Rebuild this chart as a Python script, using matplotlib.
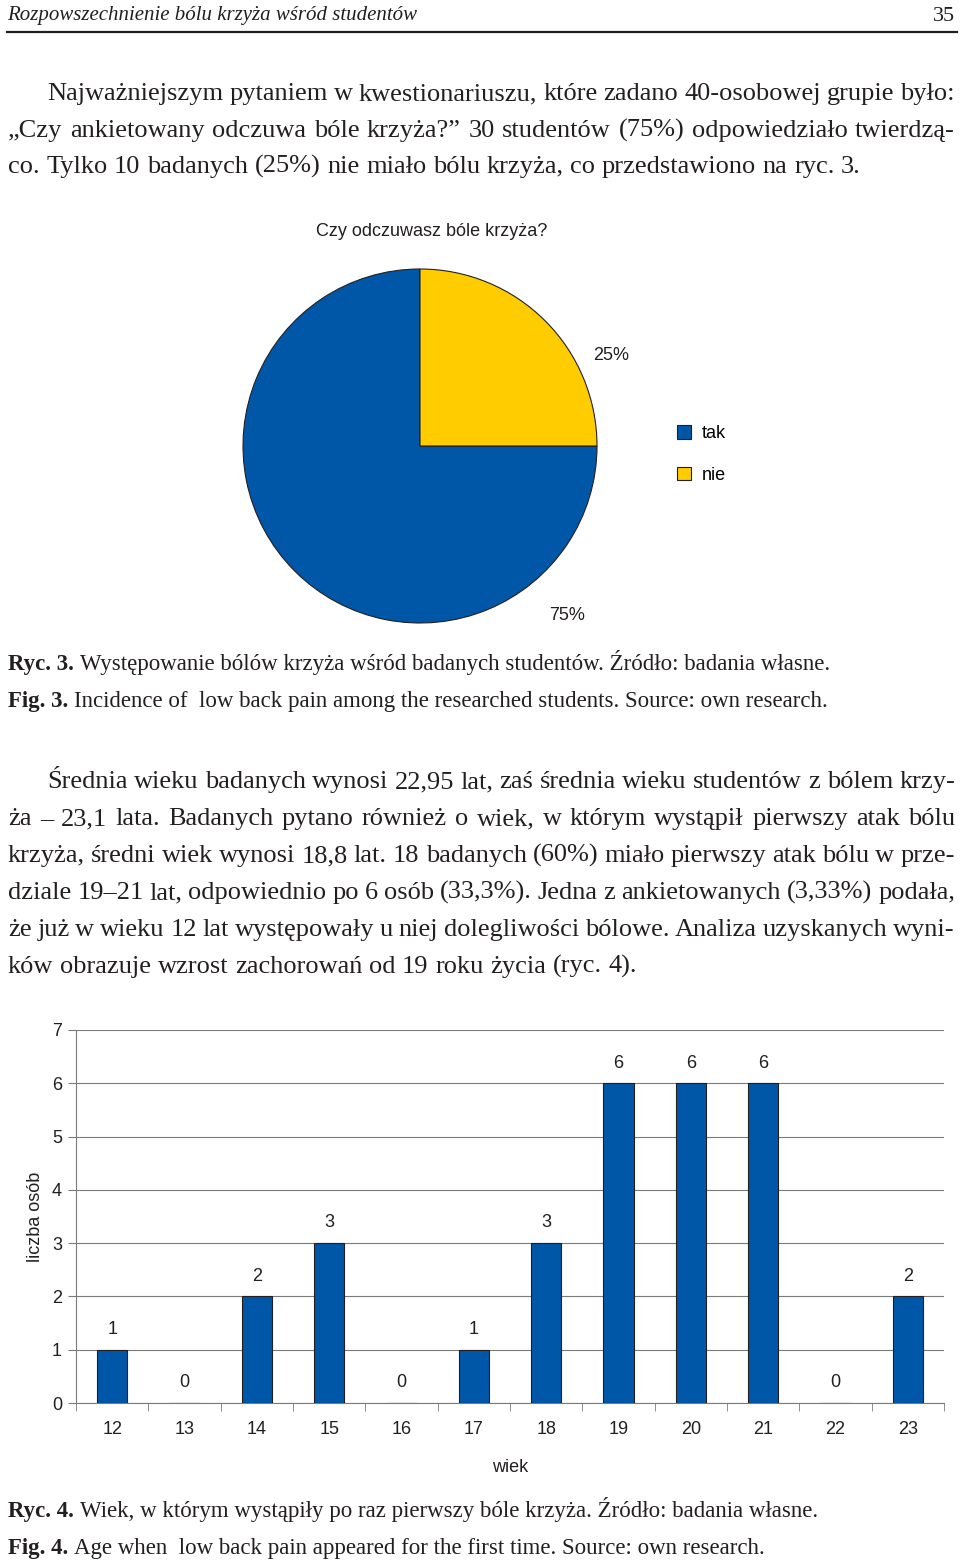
import matplotlib
matplotlib.use('Agg')
import matplotlib.pyplot as plt
import numpy as np

# pie data (ryc. 3)
pie_labels = ['tak', 'nie']
pie_values = [75, 25]
pie_colors = ['#0057a8', '#ffcc00']

# bar data (ryc. 4)
ages = ['12', '13', '14', '15', '16', '17', '18', '19', '20', '21', '22', '23']
counts = [1, 0, 2, 3, 0, 1, 3, 6, 6, 6, 0, 2]

header_left = 'Rozpowszechnienie bólu krzyża wśród studentów'
header_page = '35'

para1 = ['Najważniejszym pytaniem w kwestionariuszu, które zadano 40-osobowej grupie było:',
         '„Czy ankietowany odczuwa bóle krzyża?” 30 studentów (75%) odpowiedziało twierdzą-',
         'co. Tylko 10 badanych (25%) nie miało bólu krzyża, co przedstawiono na ryc. 3.']
para2 = ['Średnia wieku badanych wynosi 22,95 lat, zaś średnia wieku studentów z bólem krzy-',
         'ża – 23,1 lata. Badanych pytano również o wiek, w którym wystąpił pierwszy atak bólu',
         'krzyża, średni wiek wynosi 18,8 lat. 18 badanych (60%) miało pierwszy atak bólu w prze-',
         'dziale 19–21 lat, odpowiednio po 6 osób (33,3%). Jedna z ankietowanych (3,33%) podała,',
         'że już w wieku 12 lat występowały u niej dolegliwości bólowe. Analiza uzyskanych wyni-',
         'ków obrazuje wzrost zachorowań od 19 roku życia (ryc. 4).']

cap3 = [('Ryc. 3.', 'Występowanie bólów krzyża wśród badanych studentów. Źródło: badania własne.'),
        ('Fig. 3.', 'Incidence of  low back pain among the researched students. Source: own research.')]
cap4 = [('Ryc. 4.', 'Wiek, w którym wystąpiły po raz pierwszy bóle krzyża. Źródło: badania własne.'),
        ('Fig. 4.', 'Age when  low back pain appeared for the first time. Source: own research.')]

W, H = 960, 1565
SERIF = ['Liberation Serif', 'DejaVu Serif']
SANS = ['Liberation Sans', 'DejaVu Sans']
FS = 13  # chart text size

fig = plt.figure(figsize=(W / 100, H / 100), dpi=100)
renderer = fig.canvas.get_renderer()


def fx(x):
    return x / W


def fy(y):
    return 1 - y / H


def text_w(s, **kw):
    t = fig.text(0, 0, s, **kw)
    w = t.get_window_extent(renderer).width
    t.remove()
    return w


def put_line(line, x0, x1, y, justify=True, **kw):
    words = line.split(' ')
    widths = [text_w(w, **kw) for w in words]
    if justify and len(words) > 1:
        gap = (x1 - x0 - sum(widths)) / (len(words) - 1)
    else:
        gap = text_w('a a', **kw) - 2 * text_w('a', **kw)
    x = x0
    for w, wd in zip(words, widths):
        fig.text(fx(x), fy(y), w, va='baseline', ha='left', **kw)
        x += wd + gap


def put_par(lines, ys, size):
    for i, (line, y) in enumerate(zip(lines, ys)):
        x0 = 47 if i == 0 else 8
        put_line(line, x0, 955, y, justify=(i < len(lines) - 1),
                 family=SERIF, fontsize=size, color='#231f20')


def put_caption(bold, rest, y, size):
    fig.text(fx(8), fy(y), bold, va='baseline', family=SERIF, fontsize=size,
             fontweight='bold', color='#231f20')
    bw = text_w(bold, family=SERIF, fontsize=size, fontweight='bold')
    sw = text_w('a a', family=SERIF, fontsize=size) - 2 * text_w('a', family=SERIF, fontsize=size)
    fig.text(fx(8 + bw + sw), fy(y), rest, va='baseline', family=SERIF, fontsize=size,
             color='#231f20')


# header
fig.text(fx(7), fy(20), header_left, family=SERIF, style='italic', fontsize=15,
         va='baseline', color='#231f20')
fig.text(fx(955), fy(21), header_page, family=SERIF, fontsize=16, ha='right',
         va='baseline', color='#231f20')
fig.add_artist(plt.Line2D([fx(7), fx(957)], [fy(32), fy(32)], color='#231f20', lw=1.6))

BODY = 19
put_par(para1, [100, 137, 173], BODY)
put_par(para2, [788, 825, 862, 899, 936, 973], BODY)

CAP = 16.5
put_caption(cap3[0][0], cap3[0][1], 670, CAP)
put_caption(cap3[1][0], cap3[1][1], 707, CAP)
put_caption(cap4[0][0], cap4[0][1], 1517, CAP)
put_caption(cap4[1][0], cap4[1][1], 1554, CAP)

# pie chart
r = 177
cx, cy = 420, 446
ax1 = fig.add_axes([fx(cx - r), fy(cy + r), 2 * r / W, 2 * r / H])
wedges, _ = ax1.pie(pie_values, colors=pie_colors, startangle=90, counterclock=True,
                    radius=1, wedgeprops=dict(edgecolor='#231f20', linewidth=0.8))
ax1.set_xlim(-1, 1)
ax1.set_ylim(-1, 1)
ax1.set_aspect('auto')
ax1.axis('off')
fig.text(fx(611), fy(356), '25%', family=SANS, fontsize=FS, ha='center', va='center', color='#231f20')
fig.text(fx(567), fy(615), '75%', family=SANS, fontsize=FS, ha='center', va='center', color='#231f20')
fig.text(fx(432), fy(231), 'Czy odczuwasz bóle krzyża?', family=SANS, fontsize=FS,
         ha='center', va='center', color='#231f20')
fig.legend(wedges, pie_labels, loc='upper left', bbox_to_anchor=(fx(661), fy(409)),
           frameon=False, handlelength=0.75, handleheight=0.75, handletextpad=0.6,
           labelspacing=1.35, prop=dict(family=SANS, size=FS))

# bar chart
ax2 = fig.add_axes([fx(76), fy(1403), (944 - 76) / W, (1403 - 1030) / H])
x = np.arange(len(ages))
ax2.bar(x, counts, width=0.42, color='#0057a8', edgecolor='#231f20', linewidth=0.8, zorder=3)
for xi, c in zip(x, counts):
    ax2.text(xi, c + 0.38, str(c), ha='center', va='center', family=SANS, fontsize=FS,
             color='#231f20')
ax2.set_xlim(-0.45, len(ages) - 0.5)
ax2.set_ylim(0, 7)
ax2.set_yticks(range(8))
ax2.yaxis.grid(True, color='#7a7a7a', lw=0.8, zorder=0)
ax2.set_xticks(x)
ax2.set_xticklabels(ages, family=SANS, fontsize=FS, color='#231f20')
ax2.set_xticks(np.arange(-0.5, len(ages)), minor=True)
ax2.tick_params(axis='x', which='major', length=0, pad=13)
ax2.tick_params(axis='x', which='minor', length=6, color='#7a7a7a', direction='out')
ax2.tick_params(axis='y', length=6, color='#7a7a7a', pad=4, labelsize=FS)
for lab in ax2.get_yticklabels():
    lab.set_family(SANS)
    lab.set_color('#231f20')
for s in ['top', 'right']:
    ax2.spines[s].set_visible(False)
for s in ['left', 'bottom']:
    ax2.spines[s].set_color('#7a7a7a')
    ax2.spines[s].set_linewidth(0.8)
ax2.set_xlabel('wiek', family=SANS, fontsize=FS, color='#231f20', labelpad=15)
ax2.set_ylabel('liczba osób', family=SANS, fontsize=FS, color='#231f20', labelpad=6)

fig.savefig('out.png', dpi=100)
